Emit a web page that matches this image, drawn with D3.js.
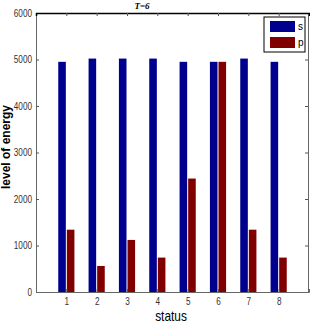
<!DOCTYPE html>
<html><head><meta charset="utf-8">
<script src="https://cdn.jsdelivr.net/npm/d3@7"></script>
<style>body{margin:0;background:#fff}svg{display:block}</style>
</head><body>
<script>
const categories = [1,2,3,4,5,6,7,8];
const seriesNames = ["s","p"];
const sValues = [4950,5020,5020,5020,4950,4950,5020,4950];
const pValues = [1340,560,1120,740,2440,4950,1340,740];
const yTicks = [0,1000,2000,3000,4000,5000,6000];
const colors = ["#00008f","#800000"];

const W=310,H=323;
const m={l:36,r:1,t:13,b:31};
const svg=d3.select("body").append("svg").attr("width",W).attr("height",H);
const x=d3.scaleLinear().domain([0,9]).range([m.l,W-m.r]);
const y=d3.scaleLinear().domain([0,6000]).range([H-m.b,m.t]);
const bw = x(0.25)-x(0);
const font='"Liberation Sans",Arial,sans-serif';

const series=[sValues,pValues];
series.forEach((vals,si)=>{
  svg.append("g").selectAll("rect").data(categories).join("rect")
    .attr("x",(d,i)=> si===0 ? x(d)-bw-0.5 : x(d)+0.5)
    .attr("width",bw)
    .attr("y",(d,i)=>y(vals[i]))
    .attr("height",(d,i)=>y(0)-y(vals[i]))
    .attr("fill",colors[si]);
});

// axes
const gL=svg.append("g").attr("transform",`translate(${m.l},0)`)
  .call(d3.axisLeft(y).tickValues(yTicks).tickSize(-3).tickPadding(3).tickFormat(d3.format("d")));
const gR=svg.append("g").attr("transform",`translate(${W-m.r-1},0)`)
  .call(d3.axisRight(y).tickValues(yTicks).tickSize(-3).tickFormat(""));
const gB=svg.append("g").attr("transform",`translate(0,${H-m.b})`)
  .call(d3.axisBottom(x).tickValues(categories).tickSize(-3).tickPadding(6).tickFormat(d3.format("d")));
const gT=svg.append("g").attr("transform",`translate(0,${m.t})`)
  .call(d3.axisTop(x).tickValues(categories).tickSize(-3).tickFormat(""));
[gL,gR,gB,gT].forEach(g=>{
  g.selectAll("text").attr("font-family",font).attr("font-size",10.5).attr("fill","#333")
    .attr("transform","scale(0.78,1)");
  g.selectAll("line").attr("stroke","#555");
  g.select(".domain").attr("stroke","#666");
});
gL.selectAll("text").attr("x",-4/0.78);
gT.select(".domain").attr("stroke","#000").attr("stroke-width",1.5);

// title
svg.append("text").attr("x",142).attr("y",9).attr("text-anchor","middle")
  .attr("font-family","Liberation Serif,serif").attr("font-style","italic").attr("font-weight","bold")
  .attr("font-size",9).text("T=6");

// axis labels
svg.append("text").attr("transform",`translate(10,147) rotate(-90)`)
  .attr("text-anchor","middle").attr("font-family","Arial,Liberation Sans,sans-serif").attr("font-weight","bold")
  .attr("font-size",12).text("level of energy");
svg.append("text").attr("transform",`translate(171,321) scale(0.85,1)`).attr("text-anchor","middle")
  .attr("font-family",font).attr("font-size",14).text("status");

// legend
const lg=svg.append("g");
lg.append("rect").attr("x",264).attr("y",17).attr("width",41).attr("height",35)
  .attr("fill","#fff").attr("stroke","#000").attr("stroke-width",1);
seriesNames.forEach((n,i)=>{
  lg.append("rect").attr("x",270).attr("y",21+i*16).attr("width",25).attr("height",11).attr("fill",colors[i]);
  lg.append("text").attr("x",298).attr("y",30+i*16).attr("font-family",font).attr("font-size",10).text(n);
});
</script>
</body></html>
